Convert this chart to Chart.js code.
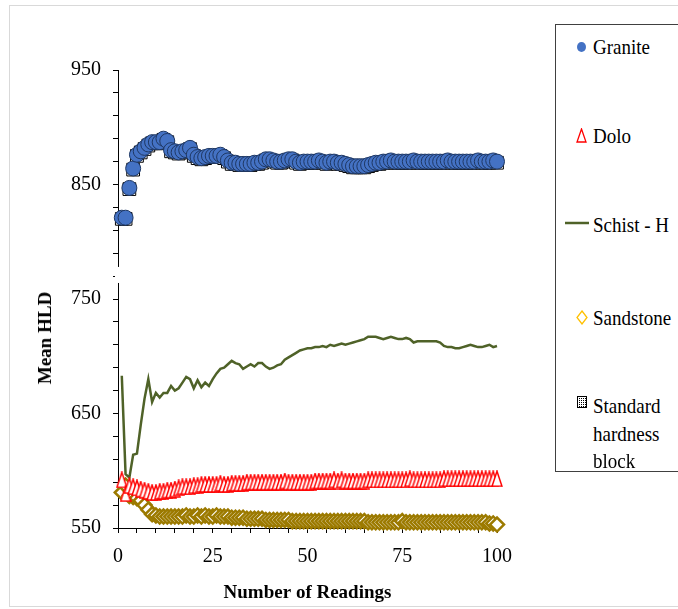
<!DOCTYPE html>
<html>
<head>
<meta charset="utf-8">
<script src="https://cdn.jsdelivr.net/npm/chart.js@4.4.1/dist/chart.umd.min.js"></script>
<style>
  body { margin: 0; background: #fff; }
  #wrap { position: relative; width: 678px; height: 609px; overflow: hidden; font-family: "Liberation Serif", "Times New Roman", serif; }
  #frame { position: absolute; left: 9px; top: 5px; width: 720px; height: 600px; border: 1px solid #d9d9d9; }
  #myChart { position: absolute; left: 0; top: 0; }
  #yTitle { position: absolute; left: 45px; top: 338px; transform: translate(-50%, -50%) rotate(-90deg); font-weight: bold; font-size: 19px; white-space: nowrap; }
  #legend { position: absolute; left: 555px; top: 24px; width: 160px; height: 446px; border: 1px solid #404040; background: #fff; }
  .item { position: absolute; left: 0; width: 160px; font-size: 19px; line-height: 27px; }
  .item svg { position: absolute; }
  .item span { position: absolute; left: 37px; display: inline-block; transform: scaleY(1.15); white-space: nowrap; }
</style>
</head>
<body>
<div id="wrap">
  <div id="frame"></div>
  <canvas id="myChart" width="678" height="609"></canvas>
  <div id="yTitle">Mean HLD</div>
  <div id="legend">
    <div class="item" style="top:8px">
      <svg style="left:20px;top:8px" width="11" height="12"><ellipse cx="5.5" cy="6" rx="4.5" ry="5" fill="#4472C4"/></svg>
      <span style="top:0">Granite</span>
    </div>
    <div class="item" style="top:97px">
      <svg style="left:20px;top:6px" width="11" height="15"><polygon points="5.5,1 10,14 1,14" fill="#fff" stroke="#ff0000" stroke-width="1.3"/></svg>
      <span style="top:0">Dolo</span>
    </div>
    <div class="item" style="top:186px">
      <svg style="left:9px;top:10px" width="24" height="4"><line x1="0" y1="2" x2="24" y2="2" stroke="#4F6228" stroke-width="2.5"/></svg>
      <span style="top:0">Schist - H</span>
    </div>
    <div class="item" style="top:279px">
      <svg style="left:20px;top:6px" width="12" height="15"><polygon points="6,1 11,7.5 6,14 1,7.5" fill="#fff" stroke="#FFC000" stroke-width="1.3"/></svg>
      <span style="top:0">Sandstone</span>
    </div>
    <div class="item" style="top:367px">
      <svg style="left:21px;top:4px" width="10" height="12">
        <defs><pattern id="dots" width="2" height="2" patternUnits="userSpaceOnUse"><rect width="2" height="2" fill="#fff"/><rect width="1" height="1" fill="#000"/></pattern></defs>
        <rect x="0.5" y="0.5" width="9" height="11" fill="url(#dots)" stroke="#000" stroke-width="1"/>
      </svg>
      <span style="top:0">Standard</span>
      <span style="top:28px">hardness</span>
      <span style="top:55px">block</span>
    </div>
  </div>
</div>
<script>
const readings = Array.from({ length: 100 }, (_, i) => i + 1);

const granite = [
  821, 821, 847, 864, 876, 879, 882, 885, 887, 887,
  887, 890, 888, 880, 879, 878, 879, 880, 882, 876,
  874, 873, 874, 875, 875, 875, 876, 874, 871, 869,
  869, 868, 868, 868, 868, 869, 869, 870, 872, 872,
  871, 870, 870, 871, 872, 872, 870, 869, 870, 870,
  870, 870, 871, 870, 869, 870, 870, 869, 869, 868,
  867, 866, 866, 866, 866, 867, 868, 869, 869, 870,
  870, 871, 870, 870, 870, 870, 870, 871, 870, 870,
  870, 870, 870, 870, 870, 870, 871, 870, 870, 870,
  870, 870, 870, 870, 871, 870, 870, 870, 871, 870
];

const dolo = [
  592, 580, 587, 586, 585, 584, 583, 582, 581, 581,
  582, 582, 583, 583, 584, 585, 586, 586, 586, 587,
  587, 588, 588, 588, 588, 588, 589, 588, 588, 589,
  589, 589, 589, 590, 590, 590, 590, 590, 590, 590,
  590, 590, 590, 591, 590, 590, 590, 590, 590, 590,
  590, 591, 591, 591, 591, 591, 592, 591, 592, 591,
  591, 591, 591, 591, 591, 592, 592, 592, 592, 592,
  592, 592, 592, 592, 592, 592, 593, 592, 592, 592,
  592, 592, 592, 592, 592, 593, 593, 593, 593, 593,
  593, 593, 593, 593, 593, 593, 593, 593, 593, 593
];

const schist = [
  683, 597, 594, 614, 615, 640, 663, 680, 660, 668,
  664, 668, 668, 674, 670, 672, 677, 682, 680, 672,
  679, 673, 677, 674, 680, 685, 689, 690, 693, 696,
  694, 693, 689, 691, 693, 691, 694, 694, 691, 689,
  690, 692, 693, 697, 699, 701, 703, 705, 706, 707,
  707, 708, 708, 709, 708, 710, 709, 710, 711, 710,
  711, 712, 713, 714, 715, 717, 717, 717, 716, 715,
  716, 717, 716, 715, 715, 716, 715, 712, 713, 713,
  713, 713, 713, 713, 712, 709, 708, 708, 707, 707,
  708, 709, 710, 709, 708, 708, 709, 710, 708, 709
];

const sandstone = [
  581, 587, 578, 577, 576, 574, 570, 566, 562, 561,
  560, 560, 560, 560, 560, 560, 560, 561, 560, 560,
  561, 560, 561, 560, 560, 561, 560, 560, 560, 559,
  559, 559, 559, 558, 558, 558, 558, 558, 557, 557,
  557, 557, 557, 557, 557, 556, 556, 556, 556, 556,
  556, 556, 556, 556, 556, 556, 556, 556, 556, 556,
  556, 556, 556, 556, 556, 555, 555, 555, 555, 555,
  555, 555, 555, 555, 556, 555, 555, 555, 555, 555,
  555, 555, 555, 555, 555, 555, 555, 555, 555, 555,
  555, 555, 555, 555, 555, 555, 555, 554, 554, 553
];

const standardBlock = [
  820, 820, 846, 863, 875, 878, 881, 884, 886, 886,
  886, 889, 887, 879, 878, 877, 878, 879, 881, 875,
  873, 872, 873, 874, 874, 874, 875, 873, 870, 868,
  868, 867, 867, 867, 867, 868, 868, 869, 871, 871,
  870, 869, 869, 870, 871, 871, 869, 868, 869, 869,
  869, 869, 870, 869, 868, 869, 869, 868, 868, 867,
  866, 865, 865, 865, 865, 866, 867, 868, 868, 869,
  869, 870, 869, 869, 869, 869, 869, 870, 869, 869,
  869, 869, 869, 869, 869, 869, 870, 869, 869, 869,
  869, 869, 869, 869, 870, 869, 869, 869, 870, 869
];

const seriesNames = ['Granite', 'Dolo', 'Schist - H', 'Sandstone', 'Standard hardness block'];
const xTickLabels = [0, 25, 50, 75, 100];
const yTickLabels = [550, 650, 750, 850, 950];

const serif = '"Liberation Serif", "Times New Roman", serif';

// tall open triangle used for the Dolo points
function triangleMarker() {
  const c = document.createElement('canvas');
  c.width = 12; c.height = 17;
  const g = c.getContext('2d');
  g.beginPath();
  g.moveTo(6, 1); g.lineTo(11, 16); g.lineTo(1, 16); g.closePath();
  g.fillStyle = '#fff'; g.fill();
  g.strokeStyle = '#ff0000'; g.lineWidth = 1.5; g.stroke();
  return c;
}

// gap in the y axis line between the two value ranges
const axisBreak = {
  id: 'axisBreak',
  afterDraw(chart) {
    const ctx = chart.ctx;
    const y = chart.scales.y;
    const top = y.getPixelForValue(778);
    const bottom = y.getPixelForValue(764);
    ctx.save();
    ctx.fillStyle = '#fff';
    ctx.fillRect(chart.chartArea.left - 3, top, 5, bottom - top);
    ctx.restore();
  }
};

const ctx = document.getElementById('myChart').getContext('2d');
const chart = new Chart(ctx, {
  type: 'line',
  data: {
    labels: readings,
    datasets: [
      {
        label: seriesNames[0], data: granite, showLine: false,
        pointStyle: 'circle', pointRadius: 7.5,
        pointBackgroundColor: '#4472C4', pointBorderColor: '#1F3864', pointBorderWidth: 1,
        clip: false
      },
      {
        label: seriesNames[1], data: dolo, showLine: false,
        pointStyle: triangleMarker(), pointRadius: 8,
        clip: false
      },
      {
        label: seriesNames[2], data: schist,
        borderColor: '#4F6228', borderWidth: 2.5, pointRadius: 0, tension: 0,
        clip: false
      },
      {
        label: seriesNames[3], data: sandstone, showLine: false,
        pointStyle: 'rectRot', pointRadius: 7,
        pointBackgroundColor: '#fff', pointBorderColor: '#9C7A00', pointBorderWidth: 2.5,
        clip: false
      },
      {
        label: seriesNames[4], data: standardBlock, showLine: false,
        pointStyle: 'rect', pointRadius: 9,
        pointBackgroundColor: '#fff', pointBorderColor: '#000', pointBorderWidth: 1,
        clip: false
      }
    ]
  },
  options: {
    responsive: false,
    animation: false,
    events: [],
    layout: { padding: { top: 70, right: 181, bottom: 0, left: 0 } },
    plugins: {
      legend: { display: false },
      tooltip: { enabled: false }
    },
    scales: {
      x: {
        type: 'linear', min: 0, max: 100,
        ticks: {
          stepSize: 5, autoSkip: false, maxRotation: 0, padding: 12,
          color: '#000', font: { family: serif, size: 20 },
          callback: v => xTickLabels.includes(v) ? v : ''
        },
        grid: { drawOnChartArea: false, tickLength: 5, color: '#000' },
        border: { color: '#000', width: 1 },
        title: {
          display: true, text: 'Number of Readings', color: '#000',
          font: { family: serif, size: 19, weight: 'bold' },
          padding: { top: 0, bottom: 5 }
        },
        afterFit: s => { s.height = 81; }
      },
      y: {
        min: 550, max: 950,
        ticks: {
          stepSize: 20, autoSkip: false, padding: 12,
          color: '#000', font: { family: serif, size: 20 },
          callback: v => yTickLabels.includes(v) ? v : ''
        },
        grid: { drawOnChartArea: false, tickLength: 5, color: '#000' },
        border: { color: '#000', width: 1 },
        afterFit: s => { s.width = 118; }
      }
    }
  },
  plugins: [axisBreak]
});
</script>
</body>
</html>
